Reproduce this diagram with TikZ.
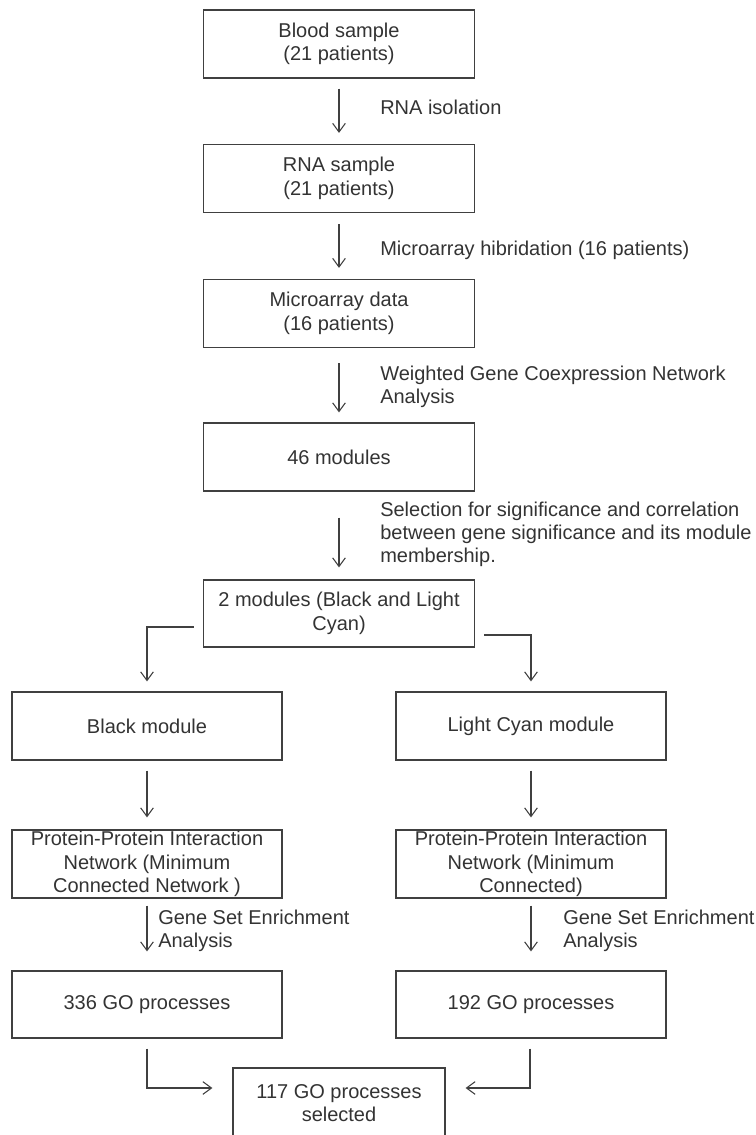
\documentclass[tikz,border=0pt]{standalone}
\usepackage{fontspec}
\setmainfont{Liberation Sans}
\usetikzlibrary{arrows.meta,calc}
\definecolor{txtgray}{RGB}{51,51,51}
\definecolor{linegray}{RGB}{64,64,64}
\tikzset{
  box/.style={draw=linegray, line width=0.9pt, rectangle, minimum width=202.5pt, minimum height=51pt,
    inner sep=0pt, align=center, text=txtgray, font=\fontsize{15}{17.6}\selectfont},
  lbl/.style={anchor=west, inner sep=0pt, align=left, text=txtgray, font=\fontsize{15}{17.3}\selectfont},
  arr/.style={draw=linegray, line width=0.8pt, -{Straight Barb[length=6.5pt,width=9.5pt,line width=0.8pt]}},
}
\begin{document}
\begin{tikzpicture}[x=0.75pt,y=-0.75pt]
\useasboundingbox (0,0) rectangle (756,1135);
% main column
\node[box, minimum width=203.25pt] (blood) at (339,44) {Blood sample\\(21 patients)};
\node[box, minimum width=203.25pt] (rna) at (339,178.5) {RNA sample\\(21 patients)};
\node[box, minimum width=203.25pt] (micro) at (339,313.5) {Microarray data\\(16 patients)};
\node[box, minimum width=203.25pt] (m46) at (339,457) {46 modules};
\node[box, minimum width=203.25pt, minimum height=50.25pt] (m2) at (339,613.5) {2 modules (Black and Light\\Cyan)};
% branches
\node[box] (black) at (147,726) {Black module};
\node[box] (cyan) at (531,726) {Light Cyan module};
\node[box] (ppib) at (147,864) {Protein-Protein Interaction\\Network (Minimum\\Connected Network )};
\node[box] (ppic) at (531,864) {Protein-Protein Interaction\\Network (Minimum\\Connected)};
\node[box, minimum height=50.25pt] (go336) at (147,1004.5) {336 GO processes};
\node[box, minimum height=50.25pt] (go192) at (531,1004.5) {192 GO processes};
\node[box, minimum width=159pt, minimum height=52.5pt] (sel) at (339,1103) {117 GO processes\\selected};
% labels
\node[lbl] (l1) at (380,107) {RNA isolation};
\node[lbl] (l2) at (380,250) {Microarray hibridation (16 patients)};
\node[lbl] (l3) at (380,386.5) {Weighted Gene Coexpression Network\\Analysis};
\node[lbl] (l4) at (380,534) {Selection for significance and correlation\\between gene significance and its module\\membership.};
\node[lbl] (l5) at (158,930.5) {Gene Set Enrichment\\Analysis};
\node[lbl] (l6) at (563,930.5) {Gene Set Enrichment\\Analysis};
% arrows
\draw[arr] ($(blood.south)+(0,10)$) -- ($(rna.north)+(0,-11)$);
\draw[arr] ($(rna.south)+(0,11)$) -- ($(micro.north)+(0,-11)$);
\draw[arr] ($(micro.south)+(0,15)$) -- ($(m46.north)+(0,-10)$);
\draw[arr] ($(m46.south)+(0,26)$) -- ($(m2.north)+(0,-12)$);
\draw[arr] ($(m2.west)+(-9,13.5)$) -| ($(black.north)+(0,-10)$);
\draw[arr] ($(m2.east)+(9,21.5)$) -| ($(cyan.north)+(0,-10)$);
\draw[arr] ($(black.south)+(0,10)$) -- ($(ppib.north)+(0,-12)$);
\draw[arr] ($(cyan.south)+(0,10)$) -- ($(ppic.north)+(0,-12)$);
\draw[arr] ($(ppib.south)+(0,7)$) -- ($(go336.north)+(0,-19)$);
\draw[arr] ($(ppic.south)+(0,7)$) -- ($(go192.north)+(0,-19)$);
\draw[arr] ($(go336.south)+(0,10)$) |- ($(sel.west)+(-20,-15)$);
\draw[arr] ($(go192.south)+(-1,10)$) |- ($(sel.east)+(20,-15)$);
\end{tikzpicture}
\end{document}
